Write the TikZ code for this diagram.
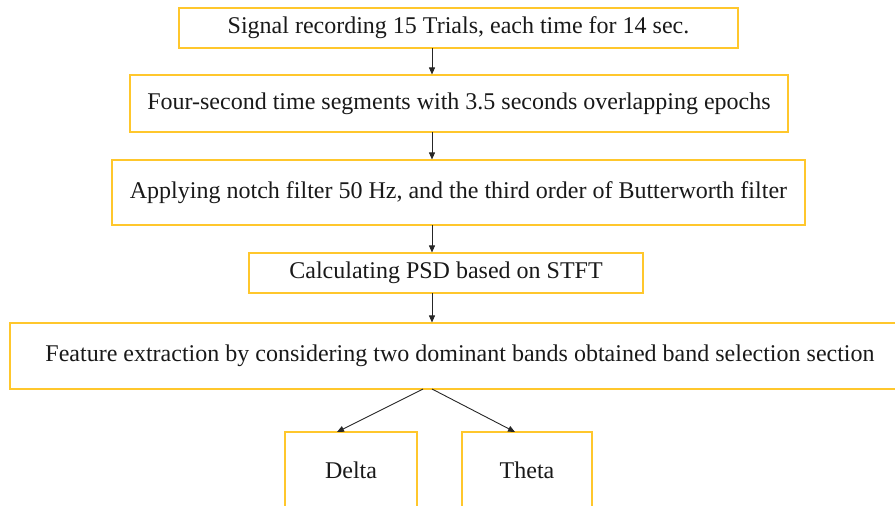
\documentclass[tikz,border=0pt]{standalone}
\usepackage{fontspec}
\setmainfont{Liberation Serif}
\usetikzlibrary{arrows.meta}
\begin{document}
\begin{tikzpicture}[x=1pt,y=-1pt,
  box/.style={draw=boxgold,line width=1.1pt,inner sep=0pt,font=\fontsize{24}{28}\selectfont,text=black!90},
  conn/.style={draw=black!85,line width=0.9pt,-{Triangle[length=7pt,width=6pt]}}]
\definecolor{boxgold}{HTML}{FFC72C}
\useasboundingbox (0,0) rectangle (895,506);
\clip (0,0) rectangle (895,506);
\node[box,minimum width=559pt,minimum height=40pt] (b1) at (458.5,28) {Signal recording 15 Trials, each time for 14 sec.};
\node[box,minimum width=658pt,minimum height=57pt] (b2) at (459,103.5) {Four-second time segments with 3.5 seconds overlapping epochs};
\node[box,minimum width=693pt,minimum height=65pt] (b3) at (458.5,192.5) {Applying notch filter 50 Hz, and the third order of Butterworth filter};
\node[box,minimum width=394pt,minimum height=40pt] (b4) at (446,273) {Calculating PSD based on STFT};
\node[box,minimum width=900pt,minimum height=66pt] (b5) at (460,356) {Feature extraction by considering two dominant bands obtained band selection section};
\node[box,minimum width=132pt,minimum height=76pt] (delta) at (351,470) {Delta};
\node[box,minimum width=130pt,minimum height=76pt] (theta) at (527,470) {Theta};
\coordinate (s1) at (432,48);
\coordinate (s2) at (432,132);
\coordinate (s3) at (432,225);
\coordinate (s4) at (432,293);
\coordinate (s5a) at (423,389);
\coordinate (s5b) at (432,389);
\draw[conn] (s1) -- (s1 |- b2.north);
\draw[conn] (s2) -- (s2 |- b3.north);
\draw[conn] (s3) -- (s3 |- b4.north);
\draw[conn] (s4) -- (s4 |- b5.north);
\draw[conn] (s5a) -- (337,432) coordinate (dt);
\draw[conn] (s5b) -- (515,432) coordinate (tt);
\end{tikzpicture}
\end{document}
